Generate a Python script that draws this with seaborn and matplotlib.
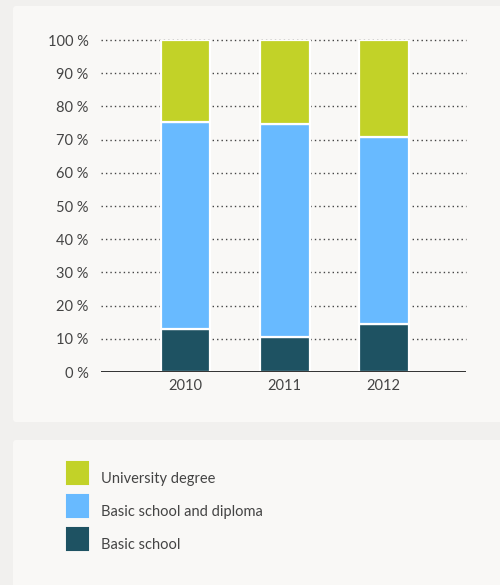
import matplotlib
matplotlib.use("Agg")
import matplotlib.pyplot as plt
from matplotlib.patches import FancyBboxPatch, Patch
from matplotlib.transforms import ScaledTranslation
import seaborn as sns
import pandas as pd

years = ["2010", "2011", "2012"]
basic_school = [13.1, 10.5, 14.4]
basic_diploma = [62.1, 64.2, 56.3]
university = [24.8, 25.3, 29.3]
yticks = [0, 10, 20, 30, 40, 50, 60, 70, 80, 90, 100]
ytick_labels = [f"{v} %" for v in yticks]
series_names = ["University degree", "Basic school and diploma", "Basic school"]
colors = {"University degree": "#c2d228",
          "Basic school and diploma": "#68baff",
          "Basic school": "#1e5262"}

sns.set_theme(style="white")
plt.rcParams["font.family"] = ["Lato", "DejaVu Sans"]

W, H = 500, 585
fig = plt.figure(figsize=(W / 100, H / 100), dpi=100)
fig.patch.set_facecolor("#f1f0ee")

def px(x0, y0, x1, y1):
    return [x0 / W, 1 - y1 / H, (x1 - x0) / W, (y1 - y0) / H]

# panels
for (x0, y0, x1, y1) in [(13, 6, 520, 422), (13, 440, 520, 600)]:
    fig.patches.append(FancyBboxPatch((x0 / W, 1 - y1 / H), (x1 - x0) / W, (y1 - y0) / H,
                                      boxstyle="round,pad=0,rounding_size=0.006",
                                      transform=fig.transFigure, facecolor="#f9f8f6",
                                      edgecolor="none", zorder=-10))

ax = fig.add_axes(px(101, 40, 466, 372))
ax.set_facecolor("none")

df = pd.DataFrame({"year": years, "basic": basic_school,
                   "diploma": basic_diploma, "uni": university})
df["b2"] = df["basic"] + df["diploma"]

kw = dict(width=0.5, edgecolor="white", linewidth=1.6, zorder=3, ax=ax, saturation=1)
sns.barplot(data=df, x="year", y="basic", color=colors["Basic school"], **kw)
sns.barplot(data=df, x="year", y="diploma", bottom=df["basic"],
            color=colors["Basic school and diploma"], **kw)
sns.barplot(data=df, x="year", y="uni", bottom=df["b2"],
            color=colors["University degree"], **kw)

ax.set_xlim(-0.855, 2.83)
ax.set_ylim(0, 100)
ax.set_yticks(yticks)
ax.set_yticklabels(ytick_labels)
for v in yticks[1:]:
    ax.axhline(v, color="#444444", linestyle=(0, (1, 2.2)), linewidth=1.0,
               zorder=1, clip_on=False)
ax.axhline(0, color="#222222", linewidth=1.3, zorder=4)
for s in ax.spines.values():
    s.set_visible(False)
ax.set_xlabel("")
ax.set_ylabel("")
ax.tick_params(axis="y", length=0, pad=9, labelsize=10.5, labelcolor="#444444")
ax.tick_params(axis="x", length=0, pad=5, labelsize=10.5, labelcolor="#444444")
ax.grid(False)

handles = [Patch(facecolor=colors[n], edgecolor=colors[n], linewidth=1.5,
                 joinstyle="round", label=n) for n in series_names]
leg = fig.legend(handles=handles, loc="upper left", bbox_to_anchor=(67 / W, 1 - 462 / H),
                 frameon=False, fontsize=10.5, handlelength=1.45, handleheight=1.94,
                 labelspacing=0.75, handletextpad=0.9, borderaxespad=0, borderpad=0)
shift = ScaledTranslation(0, -5.5 / 100, fig.dpi_scale_trans)
for t in leg.get_texts():
    t.set_color("#444444")
    t.set_transform(t.get_transform() + shift)

fig.savefig("out.png", dpi=100, facecolor=fig.get_facecolor())
